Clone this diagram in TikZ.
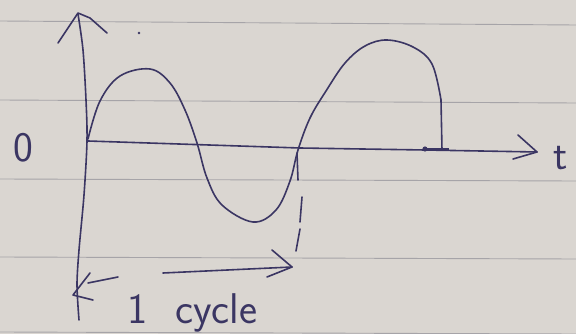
\documentclass[tikz,border=0pt]{standalone}
\definecolor{ink}{HTML}{3B3663}
\definecolor{paper}{HTML}{DAD6D1}
\definecolor{ruling}{HTML}{A6A4A8}
\begin{document}
\begin{tikzpicture}[x=1pt,y=-1pt,
  inkline/.style={draw=ink,line width=1.6pt,line cap=round,line join=round},
  ruled/.style={draw=ruling,line width=0.9pt},
  lbl/.style={text=ink,font=\sffamily\fontsize{42}{48}\selectfont,inner sep=0pt}]
\fill[paper] (0,0) rectangle (576,334);
\useasboundingbox (0,0) rectangle (576,334);
% ruled lines of the paper
\foreach \a/\b in {21/25,100/103,179/181,257/259,332/334}
  \draw[ruled] (0,\a) -- (576,\b);
% named points
\coordinate (ytip) at (78,13);
\coordinate (origin) at (88,141);
\coordinate (ttip) at (537,152);
% vertical axis
\draw[inkline] plot[smooth,tension=0.5] coordinates {(78,14) (83,50) (86,100) (87,141) (84,195) (79,250) (77,285) (79,320)};
\draw[inkline] (58,43) -- (ytip) -- (90,18) -- (107,33);
% time axis
\draw[inkline] (origin) -- (300,148) -- (425,150) -- (ttip);
\draw[inkline] (518,135) -- (ttip) -- (513,159);
% wave
\draw[inkline] plot[smooth,tension=0.6] coordinates {(88,139) (100,101) (120,76) (150,69) (170,83) (185,110) (197,143) (207,178) (222,205) (253,222) (276,210) (290,181) (298,150) (310,118) (326,91) (345,63) (365,46) (387,40) (413,47) (432,64) (441,100)};
\draw[inkline] (441,100) -- (442,150);
% end marker on the time axis
\fill[ink] (425,149) circle (2.6pt);
\draw[ink,line width=3pt] (425,150) -- (449,150);
% pen dot
\fill[ink] (139,33) circle (1.3pt);
% dashed drop line
\draw[inkline] (297,153) -- (298,180);
\draw[inkline] (302,197) -- (300,222);
\draw[inkline] (300,229) -- (296,251);
% one-cycle arrows
\coordinate (lefttip) at (73,295);
\coordinate (righttip) at (292,267);
\draw[inkline] (118,277) -- (88,283);
\draw[inkline] (90,273) -- (lefttip) -- (93,300);
\draw[inkline] (163,273) -- (righttip);
\draw[inkline] (272,250) -- (righttip) -- (267,277);
% labels
\node[lbl] (zero) at (23,148) {0};
\node[lbl] (tlabel) at (561,158) {t};
\node[lbl,anchor=base west,font=\sffamily\fontsize{43}{48}\selectfont] (cycle) at (127,323) {1\hspace{28pt}cycle};
\end{tikzpicture}
\end{document}
